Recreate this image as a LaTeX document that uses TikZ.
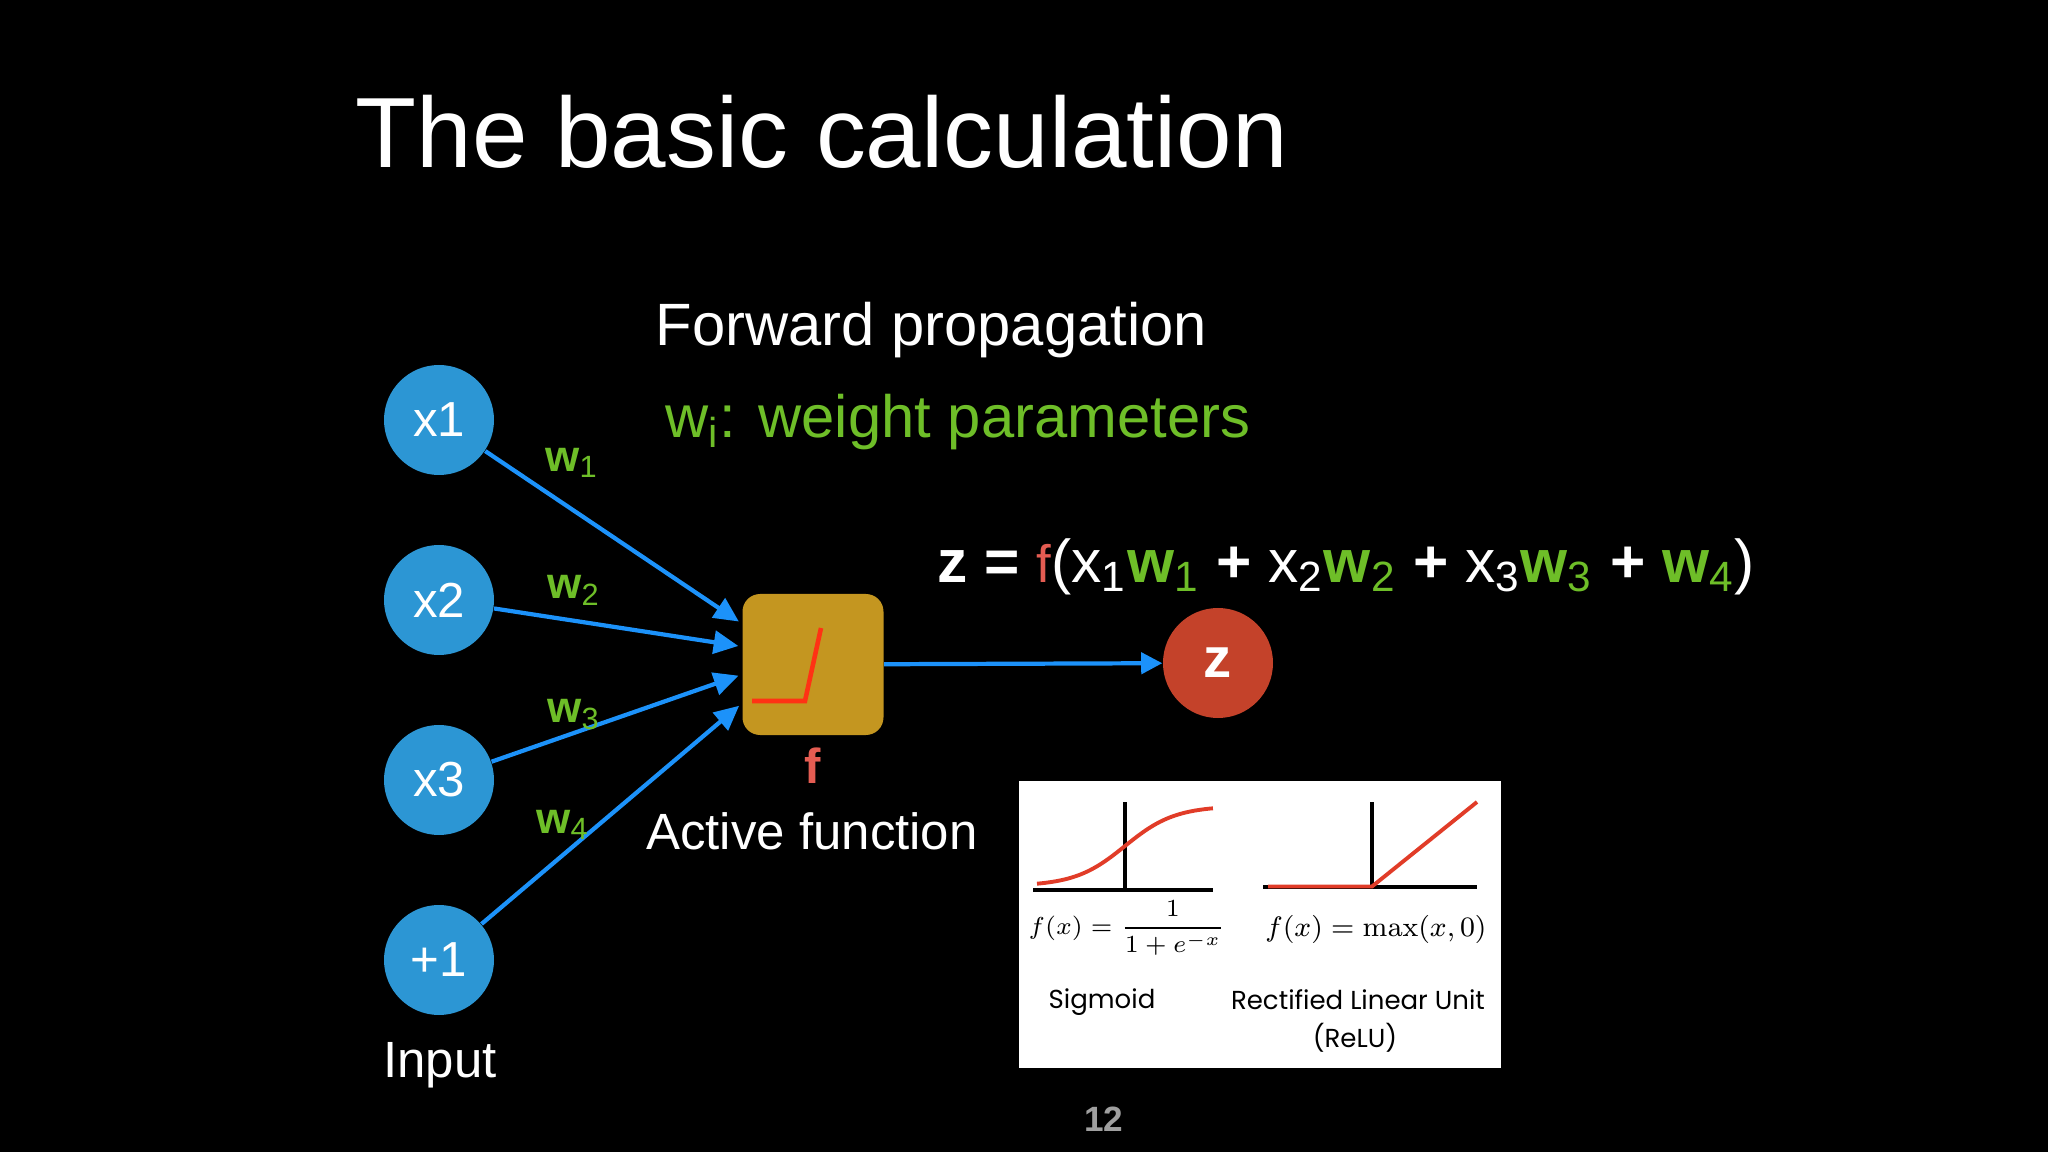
\documentclass[tikz,border=0pt]{standalone}
\usepackage{amsmath}
\usepackage[no-math]{fontspec}
\setmainfont{Liberation Sans}
\newfontfamily\plotfont{Poppins}
\usepackage{tikz}
\usetikzlibrary{positioning,calc}
\usetikzlibrary{arrows.meta}
\definecolor{InBlue}{RGB}{44,150,212}
\definecolor{LinkBlue}{RGB}{28,146,250}
\definecolor{WGreen}{RGB}{110,190,40}
\definecolor{BoxGold}{RGB}{196,150,32}
\definecolor{OutRed}{RGB}{196,66,42}
\definecolor{FRed}{RGB}{228,92,82}
\definecolor{RampRed}{RGB}{255,50,20}
\definecolor{CurveRed}{RGB}{225,60,40}
\newcommand{\xsub}[1]{x\textsubscript{#1}}
\newcommand{\wsub}[1]{{\color{WGreen}\textbf{w}\textsubscript{#1}}}
\tikzset{
	inp/.style={circle,fill=InBlue,text=white,minimum size=1.1cm,inner sep=0pt,
		font=\fontsize{14}{14}\selectfont},
	actbox/.style={fill=BoxGold,rounded corners=5pt,minimum size=1.41cm,inner sep=0pt},
	outc/.style={circle,fill=OutRed,text=white,minimum size=1.1cm,inner sep=0pt,
		font=\fontsize{16}{16}\selectfont\bfseries},
	link/.style={draw=LinkBlue,line width=1.2pt,-{Triangle[length=7pt,width=6.5pt]}},
	wlab/.style={text=WGreen,font=\fontsize{12.5}{12.5}\selectfont\bfseries},
	caption/.style={text=white,anchor=base,font=\fontsize{14.5}{14.5}\selectfont},
	heading/.style={anchor=base west,inner sep=0pt},
	axisline/.style={draw=black,line width=0.95pt},
	curve/.style={draw=CurveRed,line width=1.1pt},
	plotlab/.style={anchor=base,font=\plotfont\fontsize{7.4}{7.4}\selectfont},
}
\begin{document}
\begin{tikzpicture}
	\fill[black] (0,0) rectangle (20.48,-11.52);
	\useasboundingbox (0,0) rectangle (20.48,-11.52);
	% headings
	\node[heading,text=white,font=\fontsize{28.4}{28.4}\selectfont] (title) at (3.55,-1.68) {The basic calculation};
	\node[heading,text=white,font=\fontsize{17}{17}\selectfont] (fwd) at (6.55,-3.46) {Forward propagation};
	\node[heading,text=WGreen,font=\fontsize{17}{17}\selectfont] (wdef) at (6.65,-4.38) {w\textsubscript{i}: weight parameters};
	% inputs
	\node[inp] (x1) at (4.39,-4.20) {x1};
	\node[inp] (x2) at (4.39,-6.00) {x2};
	\node[inp] (x3) at (4.39,-7.80) {x3};
	\node[inp] (bias) at (4.39,-9.60) {+1};
	\node[caption] (inlab) at (4.40,-10.77) {Input};
	% activation unit
	\node[actbox] (act) at (8.13,-6.645) {};
	\draw[RampRed,line width=1.3pt] (7.52,-7.01) -- (8.05,-7.01) -- (8.21,-6.28);
	\node[text=FRed,anchor=base,font=\fontsize{14}{14}\selectfont\bfseries] (flab) at (8.13,-7.83) {f};
	\node[caption] (actlab) at (8.12,-8.49) {Active function};
	\node[outc] (z) at (12.18,-6.63) {z};
	% connections
	\draw[link,shorten >=1pt] (x1) -- ([yshift=0.41cm]act.west);
	\draw[link,shorten >=1pt] (x2) -- ([yshift=0.18cm]act.west);
	\draw[link,shorten >=1pt] (x3) -- ([yshift=-0.10cm]act.west);
	\draw[link,shorten >=1pt] (bias) -- ([yshift=-0.39cm]act.west);
	\draw[link,-{Triangle[length=6pt,width=6pt]}] (act) -- (z);
	\node[wlab] (w1) at (5.72,-4.63) {w\textsubscript{\mdseries 1}};
	\node[wlab] (w2) at (5.74,-5.90) {w\textsubscript{\mdseries 2}};
	\node[wlab] (w3) at (5.74,-7.15) {w\textsubscript{\mdseries 3}};
	\node[wlab] (w4) at (5.63,-8.25) {w\textsubscript{\mdseries 4}};
	% formula
	\node[heading,text=white,font=\fontsize{17.2}{17.2}\selectfont] (eq) at (9.37,-5.82)
		{\textbf{z = }{\color{FRed}\fontsize{15}{15}\selectfont f}(\xsub{1}\wsub{1} \textbf{+} \xsub{2}\wsub{2} \textbf{+} \xsub{3}\wsub{3} \textbf{+} \wsub{4})};
	% activation plots
	\node[fill=white,minimum width=4.82cm,minimum height=2.87cm,inner sep=0pt] (plots) at (12.60,-9.245) {};
	\draw[axisline] (10.33,-8.90) -- (12.13,-8.90);
	\draw[axisline] (11.25,-8.02) -- (11.25,-8.90);
	\draw[curve] plot[domain=10.37:12.13,samples=60] (\x,{-8.86+0.8/(1+exp(-(\x-11.25)/0.25))});
	\node[font=\fontsize{7.4}{7.4}\selectfont] (sigeq) at (11.27,-9.28) {$f(x)=\dfrac{1}{1+e^{-x}}$};
	\node[plotlab] (siglab) at (11.02,-10.08) {Sigmoid};
	\draw[axisline] (12.63,-8.87) -- (14.77,-8.87);
	\draw[axisline] (13.72,-8.02) -- (13.72,-8.87);
	\draw[curve] (12.68,-8.865) -- (13.72,-8.865) -- (14.77,-8.02);
	\node[anchor=base,font=\fontsize{8}{8}\selectfont] (relueq) at (13.76,-9.37) {$f(x)=\max(x,0)$};
	\node[plotlab] (relulab) at (13.58,-10.09) {Rectified Linear Unit};
	\node[plotlab] (relulab2) at (13.55,-10.47) {(ReLU)};
	% slide number
	\node[text=gray!75,font=\fontsize{10}{10}\selectfont\bfseries] (pnum) at (11.04,-11.19) {12};
\end{tikzpicture}
\end{document}
